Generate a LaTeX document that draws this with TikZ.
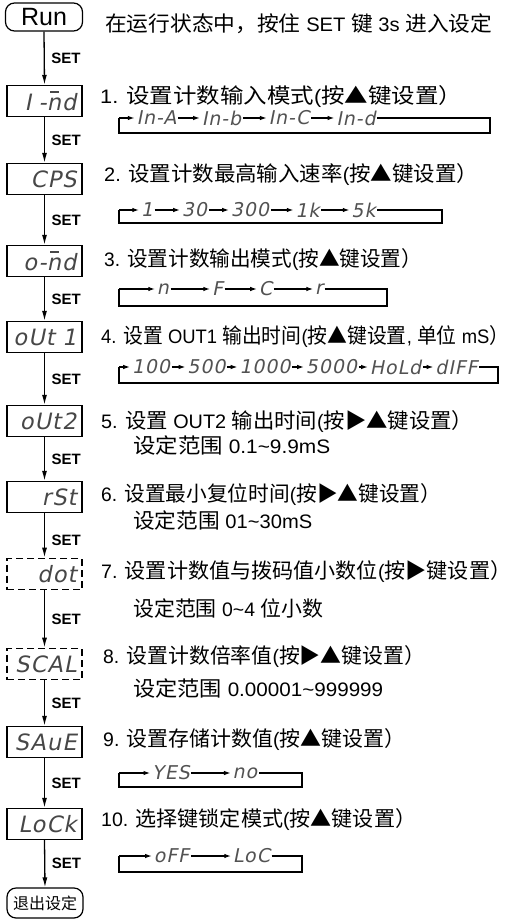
\documentclass[tikz,border=0pt]{standalone}
\usepackage{graphicx}
\usepackage{fontspec}
\setmainfont{Liberation Sans}
\newfontfamily\cjk{Noto Sans CJK SC}
\newfontfamily\segfont[FakeSlant=0.2,LetterSpace=5]{DejaVu Sans}
\usetikzlibrary{arrows.meta}
\newcommand\cn[1]{{\cjk\fontsize{21}{24}\selectfont #1}}
\newcommand\fitw[2]{\resizebox{#1pt}{\height}{#2}}
\newcommand\nbar{\makebox[0pt][l]{\hspace{0.16em}\raisebox{0.8em}{\rule{0.4em}{0.08em}}}n}
\begin{document}
\begin{tikzpicture}[x=1pt,y=-1pt,
  flowarr/.style={line width=1.3pt,-{Latex[length=10pt,width=5pt]}},
  cycarr/.style={line width=1.4pt,-{Latex[length=7pt,width=4.5pt]}},
  cycline/.style={line width=1.6pt},
  segbox/.style={draw,line width=1.3pt,minimum width=75pt,minimum height=31pt,inner sep=0pt,text width=64pt,align=right,font=\segfont\fontsize{22.5}{22.5}\selectfont,text=black!72},
  dashbox/.style={segbox,dash pattern=on 7pt off 4pt,line width=1.7pt},
  item/.style={inner sep=1.5pt,font=\segfont\fontsize{19}{19}\selectfont,text=black!68},
  txt/.style={anchor=west,inner sep=0pt,font=\fontsize{19.5}{24}\selectfont},
  setlbl/.style={anchor=west,xshift=6.5pt,inner sep=0pt,font=\bfseries\fontsize{15}{15}\selectfont},
  endbox/.style={draw,line width=1.2pt,rounded corners=9pt,inner sep=0pt}
]
\useasboundingbox (0,0) rectangle (517,920);

% left column
\node[endbox,minimum width=77pt,minimum height=28pt,font=\fontsize{25}{25}\selectfont] (run) at (44,17) {Run};
\node[segbox] (b1) at (44.5,101) {I -\nbar d};
\node[segbox] (b2) at (44.5,179) {CPS};
\node[segbox] (b3) at (44.5,261) {o-\nbar d};
\node[segbox] (b4) at (44.5,337) {oUt 1};
\node[segbox] (b5) at (44.5,421) {oUt2};
\node[segbox] (b6) at (44.5,497) {rSt};
\node[dashbox] (b7) at (44.5,574) {dot};
\node[dashbox] (b8) at (44.5,664) {SCAL};
\node[segbox] (b9) at (44.5,742) {SAuE};
\node[segbox] (b10) at (44.5,824) {LoCk};
\node[endbox,minimum width=76pt,minimum height=30pt,font=\cjk\fontsize{16}{16}\selectfont] (exit) at (45,903) {退出设定};

\draw[flowarr] (run.south) -- node[setlbl]{SET} (b1.north);
\draw[flowarr] (b1.south) -- node[setlbl]{SET} (b2.north);
\draw[flowarr] (b2.south) -- node[setlbl]{SET} (b3.north);
\draw[flowarr] (b3.south) -- node[setlbl]{SET} (b4.north);
\draw[flowarr] (b4.south) -- node[setlbl]{SET} (b5.north);
\draw[flowarr] (b5.south) -- node[setlbl]{SET} (b6.north);
\draw[flowarr] (b6.south) -- node[setlbl,pos=0.6]{SET} (b7.north);
\draw[flowarr] (b7.south) -- node[setlbl]{SET} (b8.north);
\draw[flowarr] (b8.south) -- node[setlbl]{SET} (b9.north);
\draw[flowarr] (b9.south) -- node[setlbl]{SET} (b10.north);
\draw[flowarr] (b10.south) -- node[setlbl]{SET} (exit.north);

% texts
\node[txt] (t0) at (105,24) {\fitw{387}{\cn{在运行状态中，按住} SET \cn{键} 3s \cn{进入设定}}};
\node[txt] (t1) at (100,97) {\fitw{362}{1. \cn{设置计数输入模式}(\cn{按▲键设置）}}};
\node[txt] (t2) at (104,175) {\fitw{374}{2. \cn{设置计数最高输入速率}(\cn{按▲键设置）}}};
\node[txt] (t3) at (104,260) {\fitw{318}{3. \cn{设置计数输出模式}(\cn{按▲键设置）}}};
\node[txt] (t4) at (101,337) {\fitw{408}{4. \cn{设置} OUT1 \cn{输出时间}(\cn{按▲键设置}, \cn{单位} mS\cn{）}}};
\node[txt] (t5) at (101,422) {\fitw{372}{5. \cn{设置} OUT2 \cn{输出时间}(\cn{按▶▲键设置）}}};
\node[txt] (r5) at (133,445) {\fitw{197}{\cn{设定范围} 0.1\textasciitilde 9.9mS}};
\node[txt] (t6) at (101,495) {\fitw{340}{6. \cn{设置最小复位时间}(\cn{按▶▲键设置）}}};
\node[txt] (r6) at (133,520) {\fitw{179}{\cn{设定范围} 01\textasciitilde 30mS}};
\node[txt] (t7) at (101,572) {\fitw{410}{7. \cn{设置计数值与拨码值小数位}(\cn{按▶键设置）}}};
\node[txt] (r7) at (133,608) {\fitw{190}{\cn{设定范围} 0\textasciitilde 4 \cn{位小数}}};
\node[txt] (t8) at (103,657) {\fitw{322}{8. \cn{设置计数倍率值}(\cn{按▶▲键设置）}}};
\node[txt] (r8) at (133,688) {\fitw{250}{\cn{设定范围} 0.00001\textasciitilde 999999}};
\node[txt] (t9) at (103,740) {\fitw{302}{9. \cn{设置存储计数值}(\cn{按▲键设置）}}};
\node[txt] (t10) at (101,820) {\fitw{315}{10. \cn{选择键锁定模式}(\cn{按▲键设置）}}};

% cycle 1
\coordinate (c1l) at (119,118); \coordinate (c1r) at (490,118);
\coordinate (c1rb) at (490,133); \coordinate (c1lb) at (119,133);
\node[item] (i1a) at (156.5,118) {In-A};
\node[item] (i1b) at (221.5,118) {In-b};
\node[item] (i1c) at (289,118) {In-C};
\node[item] (i1d) at (356,118) {In-d};
\draw[cycarr] (c1l) -- (i1a.west);
\draw[cycarr] (i1a.east) -- (i1b.west);
\draw[cycarr] (i1b.east) -- (i1c.west);
\draw[cycarr] (i1c.east) -- (i1d.west);
\draw[cycline] (i1d.east) -- (c1r) -- (c1rb) -- (c1lb) -- (c1l);

% cycle 2
\coordinate (c2l) at (119,210); \coordinate (c2r) at (442,210);
\coordinate (c2rb) at (442,223); \coordinate (c2lb) at (119,223);
\node[item] (i2a) at (147,210) {1};
\node[item] (i2b) at (194.5,210) {30};
\node[item] (i2c) at (250,210) {300};
\node[item] (i2d) at (307.5,210) {1k};
\node[item] (i2e) at (363.5,210) {5k};
\draw[cycarr] (c2l) -- (i2a.west);
\draw[cycarr] (i2a.east) -- (i2b.west);
\draw[cycarr] (i2b.east) -- (i2c.west);
\draw[cycarr] (i2c.east) -- (i2d.west);
\draw[cycarr] (i2d.east) -- (i2e.west);
\draw[cycline] (i2e.east) -- (c2r) -- (c2rb) -- (c2lb) -- (c2l);

% cycle 3
\coordinate (c3l) at (119,289); \coordinate (c3r) at (387,289);
\coordinate (c3rb) at (387,306); \coordinate (c3lb) at (119,306);
\node[item] (i3a) at (163,289) {n};
\node[item] (i3b) at (217.5,289) {F};
\node[item] (i3c) at (265.5,289) {C};
\node[item] (i3d) at (319,289) {r};
\draw[cycarr] (c3l) -- (i3a.west);
\draw[cycarr] (i3a.east) -- (i3b.west);
\draw[cycarr] (i3b.east) -- (i3c.west);
\draw[cycarr] (i3c.east) -- (i3d.west);
\draw[cycline] (i3d.east) -- (c3r) -- (c3rb) -- (c3lb) -- (c3l);

% cycle 4
\coordinate (c4l) at (119,367); \coordinate (c4r) at (498,367);
\coordinate (c4rb) at (498,383); \coordinate (c4lb) at (119,383);
\node[item] (i4a) at (151,367) {100};
\node[item] (i4b) at (206.5,367) {500};
\node[item] (i4c) at (265,367) {1000};
\node[item] (i4d) at (331.5,367) {5000};
\node[item] (i4e) at (395.5,367) {HoLd};
\node[item] (i4f) at (456.5,367) {dIFF};
\draw[cycarr] (c4l) -- (i4a.west);
\draw[cycarr] (i4a.east) -- (i4b.west);
\draw[cycarr] (i4b.east) -- (i4c.west);
\draw[cycarr] (i4c.east) -- (i4d.west);
\draw[cycarr] (i4d.east) -- (i4e.west);
\draw[cycarr] (i4e.east) -- (i4f.west);
\draw[cycline] (i4f.east) -- (c4r) -- (c4rb) -- (c4lb) -- (c4l);

% cycle 9
\coordinate (c9l) at (119,773); \coordinate (c9r) at (302,773);
\coordinate (c9rb) at (302,787); \coordinate (c9lb) at (119,787);
\node[item] (i9a) at (171,773) {YES};
\node[item] (i9b) at (245,773) {no};
\draw[cycarr] (c9l) -- (i9a.west);
\draw[cycarr] (i9a.east) -- (i9b.west);
\draw[cycline] (i9b.east) -- (c9r) -- (c9rb) -- (c9lb) -- (c9l);

% cycle 10
\coordinate (c10l) at (119,856); \coordinate (c10r) at (302,856);
\coordinate (c10rb) at (302,872); \coordinate (c10lb) at (119,872);
\node[item] (i10a) at (171.5,856) {oFF};
\node[item] (i10b) at (251.5,856) {LoC};
\draw[cycarr] (c10l) -- (i10a.west);
\draw[cycarr] (i10a.east) -- (i10b.west);
\draw[cycline] (i10b.east) -- (c10r) -- (c10rb) -- (c10lb) -- (c10l);
\end{tikzpicture}
\end{document}
